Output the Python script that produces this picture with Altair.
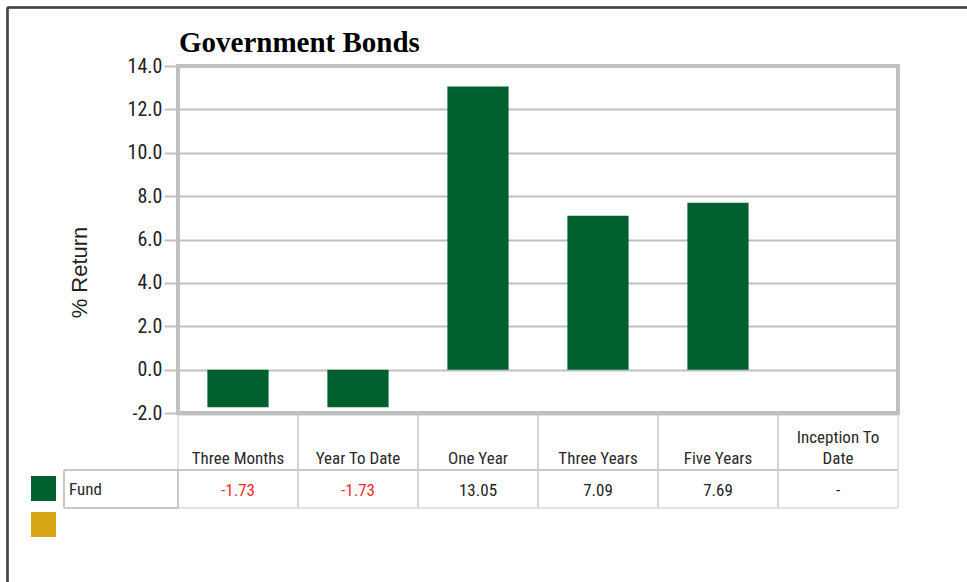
import altair as alt
import pandas as pd

# ---- data ----
chart_title = "Government Bonds"
categories = ["Three Months", "Year To Date", "One Year", "Three Years", "Five Years", "Inception To Date"]
fund_returns = [-1.73, -1.73, 13.05, 7.09, 7.69, None]
header_line1 = ["", "", "", "", "", "Inception To"]
header_line2 = ["Three Months", "Year To Date", "One Year", "Three Years", "Five Years", "Date"]
series_names = ["Fund", ""]
series_colors = ["#006030", "#d9a715"]
y_ticks = [-2, 0, 2, 4, 6, 8, 10, 12, 14]

labels = ["-" if v is None else f"{v:.2f}" for v in fund_returns]
label_colors = ["#222222" if (v is None or v >= 0) else "#ff2a2a" for v in fund_returns]

df = pd.DataFrame({
    "cat": categories,
    "ret": fund_returns,
    "h1": header_line1,
    "h2": header_line2,
    "label": labels,
    "lcolor": label_colors,
})

NARROW = "Liberation Sans Narrow, Arial Narrow, Roboto Condensed, sans-serif"
W, H = 720, 347
LEFT, TOP = 178, 66

xscale = alt.Scale(paddingInner=0, paddingOuter=0)
xenc = alt.X("cat:N", sort=categories, axis=None, scale=xscale)

base = alt.Chart(df)

bars = base.mark_bar(color=series_colors[0], width=alt.RelativeBandSize(0.51)).encode(
    x=xenc,
    y=alt.Y("ret:Q",
            scale=alt.Scale(domain=[-2, 14], nice=False, zero=False),
            axis=alt.Axis(values=y_ticks, title="% Return",
                          labelExpr="datum.value < 0 ? '-' + format(-datum.value, '.1f') : format(datum.value, '.1f')",
                          grid=True, gridColor="#c0c0c0", gridWidth=2,
                          domain=False, ticks=True, tickColor="#c0c0c0",
                          tickWidth=2, tickSize=14,
                          labelFont=NARROW, labelFontSize=20, labelColor="#222222",
                          labelPadding=2,
                          titleFont="Liberation Sans, Arial, sans-serif",
                          titleFontSize=22, titleFontWeight="normal",
                          titleColor="#222222", titleAngle=-90,
                          titleX=79 - LEFT, titleY=272 - TOP,
                          titleAlign="center", titleBaseline="middle")),
)

plot_border = base.mark_rect(fill="white", fillOpacity=0, stroke="#c0c0c0", strokeWidth=3).encode(
    x=alt.value(0), x2=alt.value(W), y=alt.value(0), y2=alt.value(H))

# table cells (header + data row) under each category
cells = base.mark_rect(fill="white", fillOpacity=0, stroke="#c8c8c8", strokeWidth=1).encode(
    x=xenc,
    y=alt.value(415 - TOP),
    y2=alt.value(508 - TOP),
)

row_line = base.mark_rule(color="#c8c8c8", strokeWidth=1).encode(
    x=alt.value(64 - LEFT), x2=alt.value(W),
    y=alt.value(470 - TOP),
)

fund_cell = base.mark_rect(fill="white", fillOpacity=0, stroke="#c8c8c8", strokeWidth=1).encode(
    x=alt.value(64 - LEFT), x2=alt.value(0),
    y=alt.value(470 - TOP), y2=alt.value(508 - TOP),
)

xtext = alt.X("cat:N", sort=categories, axis=None, scale=xscale, bandPosition=0.5)

head1 = base.mark_text(font=NARROW, fontSize=17, color="#2a2a2a", baseline="alphabetic").encode(
    x=xtext, y=alt.value(443 - TOP), text="h1:N")
head2 = base.mark_text(font=NARROW, fontSize=17, color="#2a2a2a", baseline="alphabetic").encode(
    x=xtext, y=alt.value(464 - TOP), text="h2:N")
vals = base.mark_text(font=NARROW, fontSize=17, baseline="alphabetic").encode(
    x=xtext, y=alt.value(496 - TOP), text="label:N",
    color=alt.Color("lcolor:N", scale=None))

fund_label = alt.Chart(pd.DataFrame({"name": [series_names[0]]})).mark_text(
    font=NARROW, fontSize=17, color="#2a2a2a", align="left", baseline="alphabetic").encode(
    x=alt.value(69 - LEFT), y=alt.value(495 - TOP), text="name:N")

sw1 = alt.Chart(pd.DataFrame({"s": [series_names[0]]})).mark_rect(color=series_colors[0]).encode(
    x=alt.value(31 - LEFT), x2=alt.value(56 - LEFT),
    y=alt.value(476 - TOP), y2=alt.value(501 - TOP))
sw2 = alt.Chart(pd.DataFrame({"s": [series_names[1]]})).mark_rect(color=series_colors[1]).encode(
    x=alt.value(31 - LEFT), x2=alt.value(56 - LEFT),
    y=alt.value(512 - TOP), y2=alt.value(537 - TOP))

title_mark = alt.Chart(pd.DataFrame({"t": [chart_title]})).mark_text(
    font="Liberation Serif, Times New Roman, serif", fontSize=29, fontWeight="bold",
    color="#000000", align="left", baseline="alphabetic").encode(
    x=alt.value(179 - LEFT), y=alt.value(52 - TOP), text="t:N")

frame_top = base.mark_rule(color="#444444", strokeWidth=1.5).encode(
    x=alt.value(7.5 - LEFT), x2=alt.value(967 - LEFT), y=alt.value(7.5 - TOP))
frame_left = base.mark_rule(color="#444444", strokeWidth=1.5).encode(
    x=alt.value(7.5 - LEFT), y=alt.value(7.5 - TOP), y2=alt.value(582 - TOP))

chart = alt.layer(
    bars, cells, row_line, fund_cell, plot_border, head1, head2, vals, fund_label, sw1, sw2,
    title_mark, frame_top, frame_left,
).properties(
    width=W, height=H,
    autosize=alt.AutoSizeParams(type="none"),
    padding={"left": LEFT, "top": TOP, "right": 967 - LEFT - W, "bottom": 582 - TOP - H},
).configure_view(stroke=None).configure(background="white")

chart.save("out.html", embed_options={"renderer": "svg", "actions": False})
